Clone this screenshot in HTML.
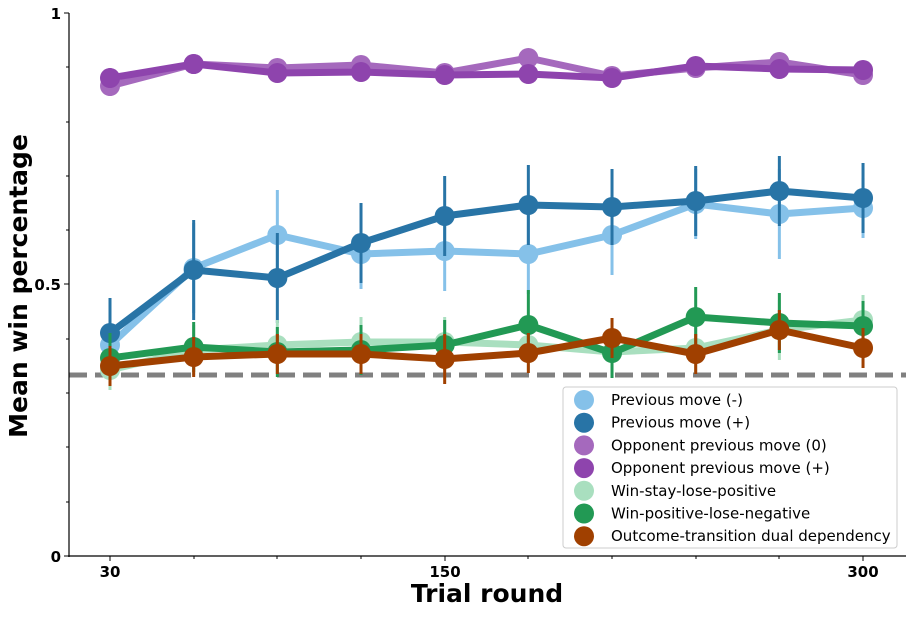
<!DOCTYPE html>
<html><head><style>body{margin:0;background:#fff}svg{font-family:"DejaVu Sans","Liberation Sans",sans-serif}</style></head><body>
<svg width="913" height="613" viewBox="0 0 913 613" xmlns="http://www.w3.org/2000/svg">
<rect width="913" height="613" fill="#fff"/>
<line x1="69" y1="375" x2="906" y2="375" stroke="#808080" stroke-width="5" stroke-dasharray="18,8"/>
<g id="series"></g>
<line x1="69" y1="13" x2="69" y2="557" stroke="#000" stroke-width="1.2"/>
<line x1="68" y1="556" x2="906" y2="556" stroke="#000" stroke-width="1.2"/>
<g stroke="#000" stroke-width="1">
<line x1="64" y1="13" x2="69" y2="13"/><line x1="66" y1="67" x2="69" y2="67"/><line x1="66" y1="122" x2="69" y2="122"/><line x1="66" y1="176" x2="69" y2="176"/><line x1="66" y1="230" x2="69" y2="230"/><line x1="64" y1="284" x2="69" y2="284"/><line x1="66" y1="339" x2="69" y2="339"/><line x1="66" y1="393" x2="69" y2="393"/><line x1="66" y1="447" x2="69" y2="447"/><line x1="66" y1="502" x2="69" y2="502"/><line x1="64" y1="556" x2="69" y2="556"/>
<line x1="110" y1="556" x2="110" y2="561"/><line x1="194" y1="556" x2="194" y2="559"/><line x1="277" y1="556" x2="277" y2="559"/><line x1="361" y1="556" x2="361" y2="559"/><line x1="445" y1="556" x2="445" y2="561"/><line x1="528" y1="556" x2="528" y2="559"/><line x1="612" y1="556" x2="612" y2="559"/><line x1="696" y1="556" x2="696" y2="559"/><line x1="779" y1="556" x2="779" y2="559"/><line x1="863" y1="556" x2="863" y2="561"/>
</g>
<g font-size="15" font-weight="bold" fill="#000">
<text x="61" y="19" text-anchor="end">1</text><text x="61" y="290" text-anchor="end">0.5</text><text x="61" y="562" text-anchor="end">0</text>
<text x="110" y="577" text-anchor="middle">30</text><text x="445" y="577" text-anchor="middle">150</text><text x="863" y="577" text-anchor="middle">300</text>
</g>
<text x="487" y="602" font-size="25" font-weight="bold" text-anchor="middle">Trial round</text>
<text transform="translate(27,286) rotate(-90)" font-size="25" font-weight="bold" text-anchor="middle">Mean win percentage</text>
<rect x="563" y="387" width="334" height="161" fill="#fff" fill-opacity="0.85" stroke="#ccc" rx="3"/>
<g id="legend" font-size="15" fill="#000"></g>
<script>
const xs=[...Array(10)].map((_,i)=>110+83.67*i);
const S=[
["#85c1e9","Previous move (-)",[345,268,235,254,251,254,235,204,214,208],[30,45,45,35,40,40,40,35,45,30]],
["#2874a6","Previous move (+)",[333,270,278,243,216,205,207,201,191,198],[35,50,45,40,40,40,38,35,35,35]],
["#a569bd","Opponent previous move (0)",[86,64,68,65,73,58,76,68,62,75],[10,5,5,5,8,5,6,6,5,6]],
["#8e44ad","Opponent previous move (+)",[78,64,73,72,75,74,78,66,69,70],[10,5,5,5,8,5,6,6,5,6]],
["#a9dfbf","Win-stay-lose-positive",[370,350,345,342,342,345,352,348,330,320],[20,25,25,25,25,25,25,25,30,25]],
["#229954","Win-positive-lose-negative",[358,347,352,350,345,325,353,317,323,326],[25,25,25,25,25,35,25,30,30,25]],
["#a04000","Outcome-transition dual dependency",[366,357,354,354,359,353,338,354,330,348],[20,20,20,20,25,20,20,20,20,20]]];
const ns="http://www.w3.org/2000/svg",g=document.getElementById("series"),L=document.getElementById("legend");
function el(t,a,p){const e=document.createElementNS(ns,t);for(const k in a)e.setAttribute(k,a[k]);p.appendChild(e);return e;}
S.forEach((s,j)=>{
 s[2].forEach((y,i)=>el("line",{x1:xs[i],x2:xs[i],y1:y-s[3][i],y2:y+s[3][i],stroke:s[0],"stroke-width":3},g));
 el("polyline",{points:s[2].map((y,i)=>xs[i]+","+y).join(" "),fill:"none",stroke:s[0],"stroke-width":7,"stroke-linejoin":"round"},g);
 s[2].forEach((y,i)=>el("circle",{cx:xs[i],cy:y,r:10,fill:s[0]},g));
 const ly=400+22.7*j;
 el("circle",{cx:584,cy:ly,r:10,fill:s[0]},L);
 el("text",{x:611,y:ly+5},L).textContent=s[1];
});
</script>
</svg>
</body></html>
